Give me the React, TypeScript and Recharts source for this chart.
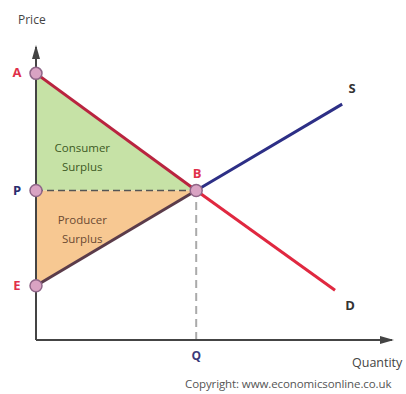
import React from "react";
import {
  ComposedChart,
  Area,
  Line,
  XAxis,
  YAxis,
  ReferenceDot,
  ReferenceLine,
} from "recharts";

// price levels on the vertical axis (A, P, E)
const priceNames = ["A", "P", "E"];
const priceLevels = [91, 51, 18.5];
const priceColors = ["#e0304a", "#2b2d6e", "#e0304a"];

// equilibrium
const eqName = "B";
const eqQuantity = 45;
const eqPrice = 51;
const qName = "Q";

// curve ends
const demandName = "D";
const demandEnd = [84, 17];
const supplyName = "S";
const supplyEnd = [86, 80.5];

const surplusLabels = [
  ["Consumer", "Surplus"],
  ["Producer", "Surplus"],
];
const surplusAnchors = [
  [13, 64],
  [13, 39.5],
];

const axisTitles = ["Price", "Quantity"];
const credit = "Copyright: www.economicsonline.co.uk";

const FONT = "'Open Sans', 'Noto Sans', sans-serif";

const consumerArea = [
  { q: 0, band: [priceLevels[1], priceLevels[0]] },
  { q: eqQuantity, band: [eqPrice, eqPrice] },
];
const producerArea = [
  { q: 0, band: [priceLevels[2], priceLevels[1]] },
  { q: eqQuantity, band: [eqPrice, eqPrice] },
];
const demandUpper = [
  { q: 0, p: priceLevels[0] },
  { q: eqQuantity, p: eqPrice },
];
const demandLower = [
  { q: eqQuantity, p: eqPrice },
  { q: demandEnd[0], p: demandEnd[1] },
];
const supplyLower = [
  { q: 0, p: priceLevels[2] },
  { q: eqQuantity, p: eqPrice },
];
const supplyUpper = [
  { q: eqQuantity, p: eqPrice },
  { q: supplyEnd[0], p: supplyEnd[1] },
];
const priceLine = [
  { q: 0, p: priceLevels[1] },
  { q: eqQuantity, p: eqPrice },
];

const PriceTick = (props: any) => {
  const i = priceLevels.indexOf(props.payload.value);
  return (
    <text
      x={props.x - 11}
      y={props.y + 4}
      textAnchor="middle"
      fontFamily={FONT}
      fontWeight={700}
      fontSize={13}
      fill={priceColors[i]}
    >
      {priceNames[i]}
    </text>
  );
};

const QuantityTick = (props: any) => (
  <text
    x={props.x}
    y={props.y + 12}
    textAnchor="middle"
    fontFamily={FONT}
    fontWeight={700}
    fontSize={12}
    fill="#3a3a7a"
  >
    {qName}
  </text>
);

const letter = (text: string, color: string, dx: number, dy: number) => (p: any) =>
  (
    <text
      x={p.cx + dx}
      y={p.cy + dy}
      textAnchor="middle"
      fontFamily={FONT}
      fontWeight={700}
      fontSize={13}
      fill={color}
    >
      {text}
    </text>
  );

const surplusText = (lines: string[], color: string) => (p: any) =>
  (
    <text
      x={p.cx}
      y={p.cy}
      textAnchor="middle"
      fontFamily={FONT}
      fontSize={11.5}
      fill={color}
    >
      <tspan x={p.cx} dy={0}>
        {lines[0]}
      </tspan>
      <tspan x={p.cx} dy={19}>
        {lines[1]}
      </tspan>
    </text>
  );

const pointShape = (p: any) => (
  <circle cx={p.cx} cy={p.cy} r={6} fill="#d9a3c3" stroke="#8f6688" strokeWidth={1.5} />
);

const arrowRight = (p: any) => (
  <polygon
    points={`${p.cx + 2},${p.cy} ${p.cx - 12},${p.cy - 4} ${p.cx - 12},${p.cy + 4}`}
    fill="#444"
  />
);
const arrowUp = (p: any) => (
  <polygon
    points={`${p.cx},${p.cy - 2} ${p.cx - 4},${p.cy + 12} ${p.cx + 4},${p.cy + 12}`}
    fill="#444"
  />
);

export default function App() {
  return (
    <div
      style={{
        position: "absolute",
        left: 0,
        top: 0,
        width: 406,
        height: 394,
        overflow: "hidden",
        background: "#fff",
        fontFamily: FONT,
      }}
    >
      <ComposedChart
        width={406}
        height={394}
        margin={{ top: 47, right: 14, left: 0, bottom: 0 }}
      >
        <XAxis
          dataKey="q"
          type="number"
          domain={[0, 100]}
          allowDataOverflow
          ticks={[eqQuantity]}
          tick={<QuantityTick />}
          tickLine={false}
          axisLine={{ stroke: "#444", strokeWidth: 2 }}
          height={54}
        />
        <YAxis
          type="number"
          domain={[0, 100]}
          allowDataOverflow
          ticks={priceLevels}
          tick={<PriceTick />}
          tickLine={false}
          axisLine={{ stroke: "#444", strokeWidth: 2 }}
          width={36}
        />
        <Area
          data={consumerArea}
          dataKey="band"
          type="linear"
          fill="#c6e2a6"
          fillOpacity={1}
          stroke="none"
          isAnimationActive={false}
        />
        <Area
          data={producerArea}
          dataKey="band"
          type="linear"
          fill="#f7c892"
          fillOpacity={1}
          stroke="none"
          isAnimationActive={false}
        />
        <ReferenceLine
          segment={[
            { x: eqQuantity, y: 0 },
            { x: eqQuantity, y: eqPrice },
          ]}
          stroke="#aaa"
          strokeWidth={2}
          strokeDasharray="8 5"
        />
        <Line
          data={priceLine}
          dataKey="p"
          stroke="#555"
          strokeWidth={1.5}
          strokeDasharray="7 4"
          dot={false}
          isAnimationActive={false}
        />
        <Line
          data={demandUpper}
          dataKey="p"
          stroke="#b9243f"
          strokeWidth={3}
          dot={false}
          isAnimationActive={false}
        />
        <Line
          data={demandLower}
          dataKey="p"
          stroke="#e02840"
          strokeWidth={3}
          dot={false}
          isAnimationActive={false}
        />
        <Line
          data={supplyLower}
          dataKey="p"
          stroke="#5b3c4a"
          strokeWidth={3}
          dot={false}
          isAnimationActive={false}
        />
        <Line
          data={supplyUpper}
          dataKey="p"
          stroke="#2d2f86"
          strokeWidth={3}
          dot={false}
          isAnimationActive={false}
        />
        <ReferenceDot x={100} y={0} shape={arrowRight} />
        <ReferenceDot x={0} y={100} shape={arrowUp} />
        {priceLevels.map((v, i) => (
          <ReferenceDot key={priceNames[i]} x={0} y={v} shape={pointShape} />
        ))}
        <ReferenceDot x={eqQuantity} y={eqPrice} shape={pointShape} />
        <ReferenceDot x={eqQuantity} y={eqPrice} shape={letter(eqName, "#e0304a", 1, -13)} />
        <ReferenceDot
          x={supplyEnd[0]}
          y={supplyEnd[1]}
          shape={letter(supplyName, "#333", 10, -11)}
        />
        <ReferenceDot
          x={demandEnd[0]}
          y={demandEnd[1]}
          shape={letter(demandName, "#333", 15, 20)}
        />
        <ReferenceDot
          x={surplusAnchors[0][0]}
          y={surplusAnchors[0][1]}
          shape={surplusText(surplusLabels[0], "#3d5a24")}
        />
        <ReferenceDot
          x={surplusAnchors[1][0]}
          y={surplusAnchors[1][1]}
          shape={surplusText(surplusLabels[1], "#6b4a32")}
        />
      </ComposedChart>
      <div
        style={{
          position: "absolute",
          left: 18,
          top: 11,
          fontSize: 12,
          color: "#444",
        }}
      >
        {axisTitles[0]}
      </div>
      <div
        style={{
          position: "absolute",
          left: 352,
          top: 354,
          fontSize: 12.5,
          color: "#444",
          whiteSpace: "nowrap",
        }}
      >
        {axisTitles[1]}
      </div>
      <div
        style={{
          position: "absolute",
          left: 185,
          top: 376,
          fontSize: 11.5,
          letterSpacing: -0.1,
          color: "#555",
          whiteSpace: "nowrap",
        }}
      >
        {credit}
      </div>
    </div>
  );
}
